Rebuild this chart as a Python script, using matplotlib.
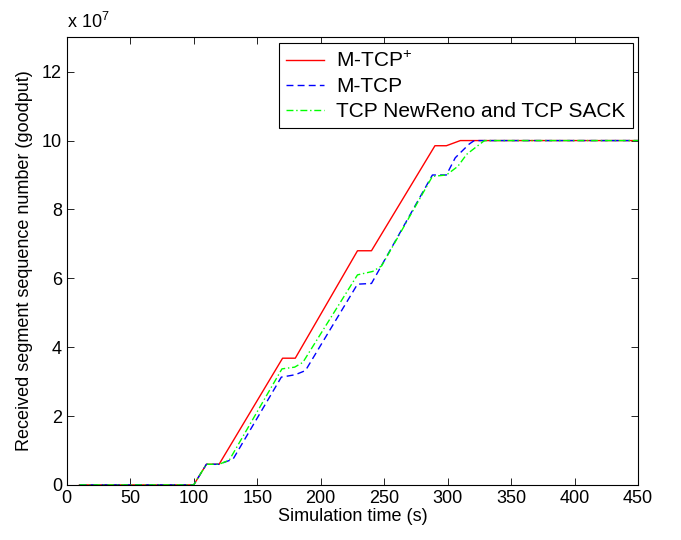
import numpy as np
import matplotlib
matplotlib.use("Agg")
import matplotlib.pyplot as plt

matplotlib.rcParams['font.family'] = ['Liberation Sans', 'DejaVu Sans']
matplotlib.rcParams['mathtext.fontset'] = 'custom'
matplotlib.rcParams['mathtext.rm'] = 'Liberation Sans'

# 数据（单位 1e7 个分段）
t_mtcp_plus = [10, 100, 110, 120, 170, 180, 229, 240, 290, 299, 310, 450]
seq_mtcp_plus = [0, 0, 0.6, 0.6, 3.68, 3.68, 6.8, 6.8, 9.85, 9.85, 10, 10]

t_mtcp = [10, 100, 110, 120, 131, 169, 180, 188, 229, 240, 288, 299, 306, 317, 321, 450]
seq_mtcp = [0, 0, 0.6, 0.6, 0.75, 3.13, 3.2, 3.32, 5.83, 5.85, 9.0, 9.0, 9.5, 9.9, 10, 10]

t_newreno = [10, 100, 110, 120, 128, 169.5, 179.5, 186, 229, 241, 248, 288, 299, 308, 315, 323, 329, 450]
seq_newreno = [0, 0, 0.6, 0.6, 0.72, 3.37, 3.42, 3.56, 6.1, 6.2, 6.36, 8.96, 9.0, 9.25, 9.6, 9.83, 10, 10]

labels = ["M-TCP$^{+}$", "M-TCP", "TCP NewReno and TCP SACK"]
x_ticks = np.arange(0, 451, 50)
y_ticks = np.arange(0, 13, 2)

fig = plt.figure(figsize=(6.81, 5.40), dpi=100)
ax = fig.add_axes([0.098, 0.102, 0.839, 0.829])

scale = 1e7
ax.plot(t_mtcp_plus, np.array(seq_mtcp_plus) * scale, color="#ff0000", lw=1.0, ls="-", label=labels[0])
ax.plot(t_mtcp, np.array(seq_mtcp) * scale, color="#0000ff", lw=1.0, ls=(0, (5, 3)), label=labels[1])
ax.plot(t_newreno, np.array(seq_newreno) * scale, color="#00ff00", lw=1.0, ls=(0, (5, 2, 1, 2)), label=labels[2])

ax.set_xlim(0, 450)
ax.set_ylim(0, 13e7)
ax.set_xticks(x_ticks)
ax.set_xticklabels([str(v) for v in x_ticks])
ax.set_yticks(y_ticks * scale)
ax.set_yticklabels([str(v) for v in y_ticks])
ax.tick_params(direction="in", top=True, right=True, length=5, labelsize=13, width=0.6)
for s in ax.spines.values():
    s.set_linewidth(0.8)

ax.text(0.0, 1.012, r"x 10$^{7}$", transform=ax.transAxes, fontsize=13, ha="left", va="bottom")
ax.set_xlabel("Simulation time (s)", fontsize=13, labelpad=1)
ax.set_ylabel("Received segment sequence number (goodput)", fontsize=13, labelpad=6)

leg = ax.legend(loc="upper right", bbox_to_anchor=(0.991, 0.987), borderaxespad=0,
                fancybox=False, edgecolor="black", framealpha=1, fontsize=15,
                handlelength=1.8, handletextpad=0.6, labelspacing=0.28, borderpad=0.35)
leg.get_frame().set_linewidth(0.8)

plt.savefig("out.png", dpi=100)
plt.close()
